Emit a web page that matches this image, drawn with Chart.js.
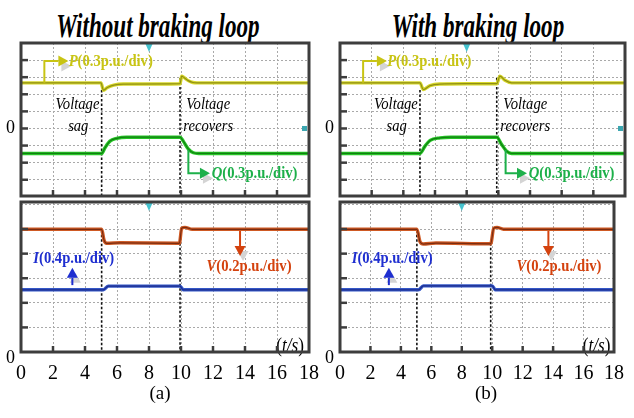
<!DOCTYPE html>
<html lang="en">
<head>
  <meta charset="UTF-8" />
  <title>Braking loop - scope traces</title>
  <script src="https://cdn.jsdelivr.net/npm/chart.js"></script>
  <style>
    body { margin: 0; background: #fff; width: 634px; height: 418px; position: relative; overflow: hidden; }
    canvas { position: absolute; left: 0; top: 0; }
    .title {
      position: absolute; top: 8px; line-height: 1; white-space: nowrap;
      font: italic bold 33px "Liberation Serif", "Times New Roman", serif; color: #000;
      transform: translateX(-50%) scaleX(0.7);
    }
    .sub {
      position: absolute; top: 382px; line-height: 20px; white-space: nowrap;
      font: 19px "Liberation Serif", "Times New Roman", serif; color: #000;
      transform: translateX(-50%);
    }
  </style>
</head>
<body>
  <div class="title" style="left:158px">Without braking loop</div>
  <div class="title" style="left:478px">With braking loop</div>
  <canvas id="upA" width="634" height="418"></canvas>
  <canvas id="loA" width="634" height="418"></canvas>
  <canvas id="upB" width="634" height="418"></canvas>
  <canvas id="loB" width="634" height="418"></canvas>
  <div class="sub" style="left:160px">(a)</div>
  <div class="sub" style="left:486px">(b)</div>

  <script>
    // time axis (s) and grid ticks
    const xTicks = [0, 2, 4, 6, 8, 10, 12, 14, 16, 18];
    const yTicksUpper = [-3, -2, -1, 0, 1, 2, 3, 4, 5];
    const yTicksLower = [0, 1, 2, 3, 4, 5, 6];

    // voltage sag / recovery instants
    const eventsA = [5.04, 9.94];
    const eventsB = [5.05, 9.9];

    // traces in screen divisions, (a) without braking loop
    const pTimeA = [0, 5.0, 5.15, 5.4, 5.8, 6.4, 9.94, 10.04, 10.2, 10.45, 10.75, 11.0, 18];
    const pValA = [2.67, 2.67, 2.24, 2.4, 2.54, 2.6, 2.62, 3.06, 2.97, 2.8, 2.69, 2.67, 2.67];
    const qTimeA = [0, 5.04, 5.25, 5.56, 5.98, 6.6, 9.94, 10.14, 10.45, 10.77, 11.1, 18];
    const qValA = [-1.46, -1.46, -1.13, -0.74, -0.58, -0.51, -0.51, -0.74, -1.19, -1.42, -1.46, -1.46];
    const vTimeA = [0, 5.04, 5.19, 5.35, 6.2, 9.9, 10.04, 10.25, 10.7, 18];
    const vValA = [4.99, 4.99, 4.55, 4.42, 4.44, 4.42, 5.03, 5.07, 4.99, 4.99];
    const iTimeA = [0, 5.15, 5.46, 9.94, 10.14, 18];
    const iValA = [2.53, 2.53, 2.68, 2.68, 2.53, 2.53];

    // (b) with braking loop
    const pTimeB = [0, 5.05, 5.26, 5.69, 6.3, 8, 9.9, 10.1, 10.42, 10.84, 18];
    const pValB = [2.67, 2.67, 2.28, 2.51, 2.6, 2.62, 2.62, 3.06, 2.82, 2.67, 2.67];
    const qTimeB = [0, 5.05, 5.37, 5.69, 6.32, 7, 9.9, 10.21, 10.53, 10.84, 18];
    const qValB = [-1.46, -1.46, -1.03, -0.7, -0.55, -0.51, -0.51, -0.94, -1.33, -1.46, -1.46];
    const vTimeB = [0, 5.05, 5.26, 5.47, 6.3, 9.9, 10.1, 10.32, 10.74, 18];
    const vValB = [4.99, 4.99, 4.48, 4.39, 4.43, 4.4, 5.03, 5.07, 4.99, 4.99];
    const iTimeB = [0, 5.16, 5.47, 10.0, 10.2, 18];
    const iValB = [2.53, 2.53, 2.69, 2.69, 2.53, 2.53];

    const pColor = '#c8c414', qColor = '#1db04a', vColor = '#d4420e', iColor = '#1f2fd0';
    const SERIF = '"Liberation Serif", "Times New Roman", serif';
    const F = (style, size) => (style ? style + ' ' : '') + size + 'px ' + SERIF;

    const notesUpper = [
      { t: 2.98, v: 3.94, parts: [['P', F('italic bold', 17), pColor], ['(0.3p.u./div)', F('bold', 17), pColor]] },
      { t: 3.53, v: 1.4, align: 'center', parts: [['Voltage', F('italic', 17), '#000']] },
      { t: 3.58, v: 0.13, align: 'center', parts: [['sag', F('italic', 17), '#000']] },
      { t: 11.7, v: 1.4, align: 'center', parts: [['Voltage', F('italic', 17), '#000']] },
      { t: 11.7, v: 0.13, align: 'center', parts: [['recovers', F('italic', 17), '#000']] },
      { t: 11.92, v: -2.62, parts: [['Q', F('italic bold', 17), qColor], ['(0.3p.u./div)', F('bold', 17), qColor]] }
    ];
    const arrowsUpper = [
      { pts: [[1.46, 2.67], [1.46, 3.94], [2.96, 3.94]], color: pColor },
      { pts: [[10.46, -1.25], [10.46, -2.62], [11.81, -2.62]], color: qColor }
    ];
    const notesLower = [
      { t: 0.77, v: 3.78, parts: [['I', F('italic bold', 17), iColor], ['(0.4p.u./div)', F('bold', 17), iColor]] },
      { t: 11.6, v: 3.49, parts: [['V', F('italic bold', 17), vColor], ['(0.2p.u./div)', F('bold', 17), vColor]] },
      { t: 15.95, v: 0.22, parts: [['(', F('', 20), '#000'], ['t/s', F('italic', 20), '#000'], [')', F('', 20), '#000']] }
    ];
    const arrowsLower = [
      { pts: [[3.21, 2.72], [3.21, 3.43]], color: iColor },
      { pts: [[13.69, 4.92], [13.69, 3.9]], color: vColor }
    ];

    function drawParts(ctx, parts, x, y, align) {
      const sx = 0.86;
      ctx.save();
      let w = 0;
      parts.forEach(p => { ctx.font = p[1]; w += ctx.measureText(p[0]).width; });
      ctx.translate(align === 'center' ? x - w * sx / 2 : x, y);
      ctx.scale(sx, 1);
      ctx.textBaseline = 'middle';
      let cx = 0;
      parts.forEach(p => {
        ctx.font = p[1]; ctx.fillStyle = p[2];
        ctx.fillText(p[0], cx, 0);
        cx += ctx.measureText(p[0]).width;
      });
      ctx.restore();
    }

    function drawArrow(ctx, pts, color) {
      const n = pts.length;
      const [tx, ty] = pts[n - 1], [fx, fy] = pts[n - 2];
      const len = Math.hypot(tx - fx, ty - fy);
      const dx = (tx - fx) / len, dy = (ty - fy) / len;
      const bx = tx - dx * 10, by = ty - dy * 10;
      const head = (ox, oy) => {
        ctx.beginPath();
        ctx.moveTo(tx + ox, ty + oy);
        ctx.lineTo(bx - dy * 5.5 + ox, by + dx * 5.5 + oy);
        ctx.lineTo(bx + dy * 5.5 + ox, by - dx * 5.5 + oy);
        ctx.closePath(); ctx.fill();
      };
      ctx.fillStyle = '#d4d4d4';
      head(3, 5);
      ctx.strokeStyle = color; ctx.fillStyle = color; ctx.lineWidth = 2;
      ctx.beginPath();
      ctx.moveTo(pts[0][0], pts[0][1]);
      for (let i = 1; i < n - 1; i++) ctx.lineTo(pts[i][0], pts[i][1]);
      ctx.lineTo(bx, by);
      ctx.stroke();
      head(0, 0);
    }

    const scopePlugin = {
      id: 'scope',
      beforeDatasetsDraw(chart, args, o) {
        const { ctx, chartArea: a, scales: { x, y } } = chart;
        ctx.save();
        ctx.strokeStyle = '#111'; ctx.lineWidth = 1.6; ctx.setLineDash([2.5, 2]);
        o.events.forEach((t, i) => {
          const px = x.getPixelForValue(t);
          ctx.beginPath();
          ctx.moveTo(px, y.getPixelForValue(o.eventFrom[i]));
          ctx.lineTo(px, a.bottom);
          ctx.stroke();
        });
        ctx.restore();
      },
      afterDatasetsDraw(chart, args, o) {
        const { ctx, chartArea: a, scales: { x, y } } = chart;
        ctx.save();
        o.arrows.forEach(ar => drawArrow(ctx, ar.pts.map(p => [x.getPixelForValue(p[0]), y.getPixelForValue(p[1])]), ar.color));
        o.notes.forEach(nt => drawParts(ctx, nt.parts, x.getPixelForValue(nt.t), y.getPixelForValue(nt.v), nt.align));

        // teal trigger marker on top, level marker on the right
        const mx = x.getPixelForValue(8);
        ctx.fillStyle = '#45c3cf';
        ctx.beginPath();
        ctx.moveTo(mx - 3.5, a.top + 1); ctx.lineTo(mx + 3.5, a.top + 1); ctx.lineTo(mx, a.top + 9);
        ctx.closePath(); ctx.fill();
        if (o.zeroMark) {
          ctx.fillStyle = '#3aa6b0';
          ctx.fillRect(a.right - 7, y.getPixelForValue(0) - 2.5, 5, 5);
        }

        // frame with short division marks
        ctx.strokeStyle = '#3d3d3d';
        ctx.lineWidth = 2.5;
        y.ticks.forEach(tk => {
          const py = y.getPixelForValue(tk.value);
          if (py < a.top + 3 || py > a.bottom - 3) return;
          ctx.beginPath(); ctx.moveTo(a.left, py); ctx.lineTo(a.left + 7, py); ctx.stroke();
        });
        x.ticks.forEach(tk => {
          const px = x.getPixelForValue(tk.value);
          if (px < a.left + 3 || px > a.right - 3) return;
          ctx.beginPath(); ctx.moveTo(px, a.bottom); ctx.lineTo(px, a.bottom - 6); ctx.stroke();
        });
        ctx.lineWidth = 3;
        ctx.strokeRect(a.left, a.top, a.right - a.left, a.bottom - a.top);
        ctx.restore();
      }
    };

    function pts(ts, vs) { return ts.map((t, i) => ({ x: t, y: vs[i] })); }

    function trace(ts, vs, halo, core) {
      const base = { pointRadius: 0, cubicInterpolationMode: 'monotone', fill: false };
      return [
        Object.assign({ data: pts(ts, vs), borderColor: halo, borderWidth: 3.4, order: 2 }, base),
        Object.assign({ data: pts(ts, vs), borderColor: core, borderWidth: 1.2, order: 1 }, base)
      ];
    }

    const gridStyle = { color: '#a9a9a9', lineWidth: 1, drawTicks: false, borderDash: [2, 2] };
    const borderStyle = { display: false, dash: [2, 2] };

    function scopeChart(id, cfg) {
      return new Chart(document.getElementById(id), {
        type: 'line',
        data: { datasets: cfg.datasets },
        options: {
          responsive: false,
          animation: false,
          events: [],
          layout: { padding: cfg.pad },
          plugins: { legend: { display: false }, tooltip: { enabled: false }, scope: cfg.scope },
          scales: {
            x: {
              type: 'linear', min: 0, max: 18,
              afterBuildTicks: s => { s.ticks = xTicks.map(v => ({ value: v })); },
              ticks: {
                display: cfg.showX, autoSkip: false, maxRotation: 0, padding: 10, color: '#000',
                font: { family: SERIF, size: 20 }
              },
              grid: gridStyle, border: borderStyle,
              afterFit: s => { s.height = cfg.xH; }
            },
            y: {
              min: cfg.yMin, max: cfg.yMax,
              afterBuildTicks: s => { s.ticks = cfg.yTicks.map(v => ({ value: v })); },
              ticks: {
                autoSkip: false,
                callback: v => (v === 0 ? '0' : ''), padding: 6, labelOffset: cfg.zeroShift, color: '#000',
                font: { family: SERIF, size: 18 }
              },
              grid: gridStyle, border: borderStyle,
              afterFit: s => { s.width = 21; }
            }
          }
        },
        plugins: [scopePlugin]
      });
    }

    const charts = [];
    function panel(side, left, right, data, events) {
      charts.push(scopeChart('up' + side, {
        datasets: [...trace(data.pT, data.pV, '#d6d62a', '#8f8f14'), ...trace(data.qT, data.qV, '#26c426', '#108010')],
        pad: { left: left, right: 634 - right, top: 43, bottom: 222 },
        showX: false, xH: 0, yMin: -3.95, yMax: 5.0, yTicks: yTicksUpper, zeroShift: 0,
        scope: { events: events, eventFrom: [2.25, 2.95], arrows: arrowsUpper, notes: notesUpper, zeroMark: true }
      }));
      charts.push(scopeChart('lo' + side, {
        datasets: [...trace(data.vT, data.vV, '#cf5a24', '#7a2c10'), ...trace(data.iT, data.iV, '#3558c8', '#1c2c8c')],
        pad: { left: left, right: 634 - right, top: 202, bottom: 0 },
        showX: true, xH: 66, yMin: 0, yMax: 6.1, yTicks: yTicksLower, zeroShift: 6,
        scope: { events: events, eventFrom: [4.95, 4.42], arrows: arrowsLower, notes: notesLower, zeroMark: false }
      }));
    }

    panel('A', 0, 309, { pT: pTimeA, pV: pValA, qT: qTimeA, qV: qValA, vT: vTimeA, vV: vValA, iT: iTimeA, iV: iValA }, eventsA);
    panel('B', 319, 625, { pT: pTimeB, pV: pValB, qT: qTimeB, qV: qValB, vT: vTimeB, vV: vValB, iT: iTimeB, iV: iValB }, eventsB);

    // redraw once the serif faces are surely available to the canvas
    Promise.all(['17px', 'bold 17px', 'italic 17px', 'italic bold 17px'].map(f => document.fonts.load(f + ' "Liberation Serif"')))
      .then(() => charts.forEach(c => c.update()))
      .catch(() => {});
  </script>
</body>
</html>
